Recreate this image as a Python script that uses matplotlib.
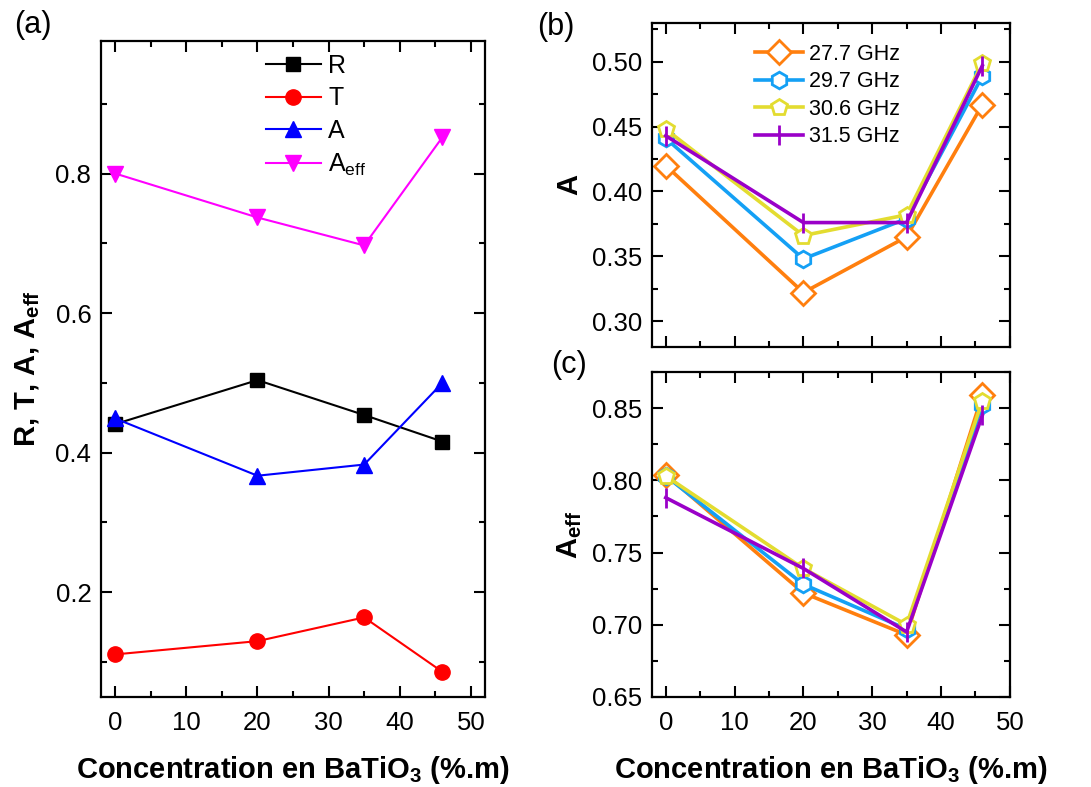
import numpy as np
import matplotlib
matplotlib.use('Agg')
import matplotlib.pyplot as plt
from matplotlib.ticker import MultipleLocator, FormatStrFormatter

plt.rcParams['font.family'] = ['Liberation Sans', 'DejaVu Sans']
plt.rcParams['mathtext.fontset'] = 'custom'
plt.rcParams['mathtext.rm'] = 'Liberation Sans'
plt.rcParams['mathtext.it'] = 'Liberation Sans:italic'
plt.rcParams['mathtext.bf'] = 'Liberation Sans:bold'

## Data

conc = [0, 20, 35, 46]

# panel (a)
R = [0.441, 0.504, 0.454, 0.416]
T = [0.111, 0.130, 0.164, 0.086]
A = [0.449, 0.367, 0.383, 0.500]
A_eff = [0.800, 0.737, 0.697, 0.852]

# panels (b) and (c), one list per frequency
freqs = ['27.7 GHz', '29.7 GHz', '30.6 GHz', '31.5 GHz']
A_freq = [
    [0.420, 0.322, 0.365, 0.467],
    [0.441, 0.348, 0.379, 0.489],
    [0.448, 0.366, 0.382, 0.499],
    [0.443, 0.376, 0.376, 0.497],
]
Aeff_freq = [
    [0.804, 0.722, 0.693, 0.859],
    [0.803, 0.728, 0.697, 0.852],
    [0.803, 0.739, 0.700, 0.855],
    [0.788, 0.739, 0.695, 0.845],
]

freq_colors = ['#FF7F0E', '#14A0F5', '#E3DC30', '#9A00C8']
freq_markers = ['D', 'h', 'p', '|']

xlabel = r'Concentration en BaTiO$_\mathbf{3}$ (%.m)'

## Figure

fig = plt.figure(figsize=(10.91, 7.87), dpi=100)
ax_a = fig.add_axes([0.0926, 0.1144, 0.352, 0.8336])
ax_b = fig.add_axes([0.5976, 0.5591, 0.328, 0.4117])
ax_c = fig.add_axes([0.5976, 0.1144, 0.328, 0.4129])


def style_axes(ax):
    for s in ax.spines.values():
        s.set_linewidth(1.6)
    ax.tick_params(which='both', direction='in', top=True, right=True,
                   width=1.5, labelsize=18.5)
    ax.tick_params(axis='y', pad=7)
    ax.tick_params(axis='x', pad=10)
    ax.tick_params(which='major', length=8)
    ax.tick_params(which='minor', length=4)
    ax.xaxis.set_major_locator(MultipleLocator(10))
    ax.xaxis.set_minor_locator(MultipleLocator(5))


# (a)
ax_a.plot(conc, R, '-s', color='black', ms=10, lw=1.5, label='R')
ax_a.plot(conc, T, '-o', color='red', ms=11, lw=1.5, label='T')
ax_a.plot(conc, A, '-^', color='blue', ms=11, lw=1.5, label='A')
ax_a.plot(conc, A_eff, '-v', color='magenta', ms=11, lw=1.5,
          label=r'A$_{\mathrm{eff}}$')
ax_a.set_xlim(-2, 52)
ax_a.set_ylim(0.05, 0.99)
ax_a.yaxis.set_major_locator(MultipleLocator(0.2))
ax_a.yaxis.set_minor_locator(MultipleLocator(0.1))
style_axes(ax_a)
ax_a.set_xlabel(xlabel, fontsize=21, fontweight='bold', labelpad=14)
ax_a.set_ylabel(r'R, T, A, $\mathbf{A_{eff}}$', fontsize=21,
                fontweight='bold', labelpad=10)
ax_a.legend(loc='upper left', bbox_to_anchor=(0.37, 1.015), frameon=False,
            fontsize=18, handlelength=2.2, labelspacing=0.35,
            handletextpad=0.3)

# (b) and (c)
for i in range(len(freqs)):
    kw = dict(color=freq_colors[i], marker=freq_markers[i], lw=2.6,
              mfc='white', mew=2.0, ms=12, label=freqs[i])
    if freq_markers[i] == '|':
        kw['ms'] = 14
    ax_b.plot(conc, A_freq[i], **kw)
    ax_c.plot(conc, Aeff_freq[i], **kw)

ax_b.set_xlim(-2, 50)
ax_b.set_ylim(0.28, 0.53)
ax_b.yaxis.set_major_locator(MultipleLocator(0.05))
ax_b.yaxis.set_minor_locator(MultipleLocator(0.025))
style_axes(ax_b)
ax_b.tick_params(axis='x', labelbottom=False)
ax_b.yaxis.set_major_formatter(FormatStrFormatter('%.2f'))
ax_b.set_ylabel('A', fontsize=21, fontweight='bold', labelpad=6)
ax_b.legend(loc='upper left', bbox_to_anchor=(0.235, 0.995), frameon=False,
            fontsize=15.5, handlelength=2.2, labelspacing=0.3,
            handletextpad=0.3)

ax_c.set_xlim(-2, 50)
ax_c.set_ylim(0.65, 0.875)
ax_c.yaxis.set_major_locator(MultipleLocator(0.05))
ax_c.yaxis.set_minor_locator(MultipleLocator(0.025))
style_axes(ax_c)
ax_c.yaxis.set_major_formatter(FormatStrFormatter('%.2f'))
ax_c.set_xlabel(xlabel, fontsize=21, fontweight='bold', labelpad=14)
ax_c.set_ylabel(r'$\mathbf{A_{eff}}$', fontsize=21, labelpad=6)

# panel letters
fig.text(0.013, 0.968, '(a)', fontsize=22, va='center')
fig.text(0.492, 0.966, '(b)', fontsize=22, va='center')
fig.text(0.505, 0.536, '(c)', fontsize=22, va='center')

fig.savefig('out.png', dpi=100)
